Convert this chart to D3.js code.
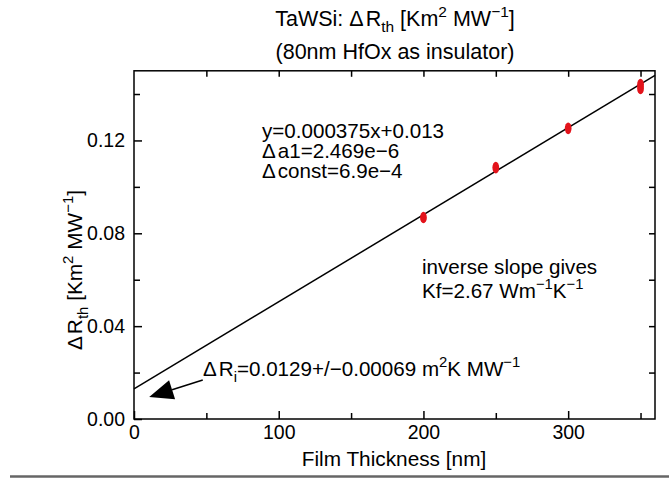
<!DOCTYPE html>
<html>
<head>
<meta charset="utf-8">
<script src="https://cdn.jsdelivr.net/npm/d3@7"></script>
<style>
  html, body { margin: 0; padding: 0; background: #fff; }
  svg { display: block; font-family: "Liberation Sans", Arial, Helvetica, sans-serif; }
</style>
</head>
<body>
<svg id="chart" width="669" height="479"></svg>
<script>
// Film thickness (nm) and measured thermal resistance change (K m^2 / MW)
const thickness = [200, 250, 300, 350, 350];
const deltaR    = [0.0868, 0.1083, 0.1252, 0.1441, 0.1424];

// Linear fit y = slope * x + intercept
const fitSlope = 0.000375;
const fitIntercept = 0.013;

const xTicks = [0, 50, 100, 150, 200, 250, 300, 350];
const xTickLabels = ["0", "", "100", "", "200", "", "300", ""];
const yTicks = [0, 0.02, 0.04, 0.06, 0.08, 0.10, 0.12, 0.14];
const yTickLabels = ["0.00", "", "0.04", "", "0.08", "", "0.12", ""];

// Arrow pointing at the intercept region (data units: [x, y])
const arrowTail = [47.5, 0.0168];
const arrowTip  = [10.5, 0.0095];

const svg = d3.select("#chart");
const FS_TICK = 19.5;   // tick labels
const FS_AX = 20.8;     // axis titles
const FS_NOTE = 20.6;   // annotations
const FS_TITLE = 21.5;  // chart title

const x = d3.scaleLinear().domain([0, 360]).range([134, 655]);
const y = d3.scaleLinear().domain([0, 0.15]).range([419, 70.8]);

// Rich text helper: handles sub/superscripts via dy shifts
function rich(sel, parts, size) {
  let shift = 0;
  parts.forEach(p => {
    const ts = sel.append("tspan").text(p.t);
    const target = p.sup ? -size * 0.42 : p.sub ? size * 0.28 : 0;
    ts.attr("dy", target - shift);
    shift = target;
    if (p.sup || p.sub) ts.attr("font-size", size * 0.72);
    if (p.dx) ts.attr("dx", p.dx);
  });
  return sel;
}

// Frame
svg.append("rect")
  .attr("x", x(0)).attr("y", y(0.15))
  .attr("width", x(360) - x(0)).attr("height", y(0) - y(0.15))
  .attr("fill", "none").attr("stroke", "#000").attr("stroke-width", 1.5);

// Axes with inward ticks
const axBottom = svg.append("g").attr("transform", `translate(0,${y(0)})`)
  .call(d3.axisBottom(x).tickValues(xTicks)
    .tickSizeInner(0).tickSizeOuter(0).tickPadding(6)
    .tickFormat((d, i) => xTickLabels[i]));
axBottom.selectAll(".tick line").attr("y2", (d, i) => xTickLabels[i] ? -8 : -6);

const axTop = svg.append("g").attr("transform", `translate(0,${y(0.15)})`)
  .call(d3.axisTop(x).tickValues(xTicks.slice(1)).tickSizeInner(0).tickSizeOuter(0).tickFormat(""));
axTop.selectAll(".tick line").attr("y2", 6);

const axLeft = svg.append("g").attr("transform", `translate(${x(0)},0)`)
  .call(d3.axisLeft(y).tickValues(yTicks)
    .tickSizeInner(0).tickSizeOuter(0).tickPadding(9)
    .tickFormat((d, i) => yTickLabels[i]));
axLeft.selectAll(".tick line").attr("x2", (d, i) => yTickLabels[i] ? 8 : 6);

const axRight = svg.append("g").attr("transform", `translate(${x(360)},0)`)
  .call(d3.axisRight(y).tickValues(yTicks.slice(1)).tickSizeInner(0).tickSizeOuter(0).tickFormat(""));
axRight.selectAll(".tick line").attr("x2", -6);

svg.selectAll(".domain").remove();
svg.selectAll(".tick line").attr("stroke", "#000").attr("stroke-width", 1.5);
svg.selectAll(".tick text").attr("font-size", FS_TICK).attr("fill", "#000")
  .attr("font-family", "Liberation Sans, Arial, sans-serif");

// Fit line
svg.append("line")
  .attr("x1", x(0)).attr("y1", y(fitIntercept))
  .attr("x2", x(360)).attr("y2", y(fitSlope * 360 + fitIntercept))
  .attr("stroke", "#000").attr("stroke-width", 1.5);

// Data points
svg.append("g").selectAll("ellipse")
  .data(thickness.map((t, i) => [t, deltaR[i]]))
  .join("ellipse")
  .attr("cx", d => x(d[0])).attr("cy", d => y(d[1]))
  .attr("rx", 3.4).attr("ry", 5.8)
  .attr("fill", "#e3131b");

// Arrow
const ax1 = x(arrowTail[0]), ay1 = y(arrowTail[1]);
const ax2 = x(arrowTip[0]),  ay2 = y(arrowTip[1]);
const ang = Math.atan2(ay2 - ay1, ax2 - ax1);
const headLen = 24, headW = 10;
const bx = ax2 - headLen * Math.cos(ang), by = ay2 - headLen * Math.sin(ang);
svg.append("line")
  .attr("x1", ax1).attr("y1", ay1).attr("x2", bx).attr("y2", by)
  .attr("stroke", "#000").attr("stroke-width", 1.5);
svg.append("path")
  .attr("d", `M${ax2},${ay2} L${bx - headW * Math.sin(ang)},${by + headW * Math.cos(ang)} L${bx + headW * Math.sin(ang)},${by - headW * Math.cos(ang)} Z`)
  .attr("fill", "#000");

// Titles
rich(svg.append("text").attr("x", 395).attr("y", 26).attr("text-anchor", "middle").attr("font-size", FS_TITLE),
  [{t: "TaWSi: Δ"}, {t: "R", dx: 2}, {t: "th", sub: true}, {t: " [Km"}, {t: "2", sup: true}, {t: " MW"}, {t: "−1", sup: true}, {t: "]"}], FS_TITLE);
svg.append("text").attr("x", 395).attr("y", 59).attr("text-anchor", "middle").attr("font-size", FS_TITLE)
  .text("(80nm HfOx as insulator)");

// Axis titles
svg.append("text").attr("x", 394).attr("y", 466).attr("text-anchor", "middle").attr("font-size", FS_AX)
  .text("Film Thickness [nm]");
rich(svg.append("text").attr("transform", "translate(82,270) rotate(-90)").attr("text-anchor", "middle").attr("font-size", FS_AX),
  [{t: "Δ"}, {t: "R", dx: 2}, {t: "th", sub: true}, {t: " [Km"}, {t: "2", sup: true}, {t: " MW"}, {t: "−1", sup: true}, {t: "]"}], FS_AX);

// Fit annotation
const fitText = svg.append("text").attr("font-size", FS_NOTE);
fitText.append("tspan").attr("x", 262).attr("y", 138).text("y=0.000375x+0.013");
fitText.append("tspan").attr("x", 262).attr("y", 158).text("Δ").append("tspan").attr("dx", 2).text("a1=2.469e−6");
fitText.append("tspan").attr("x", 262).attr("y", 178).text("Δ").append("tspan").attr("dx", 2).text("const=6.9e−4");

// Conductivity annotation
svg.append("text").attr("x", 422).attr("y", 274).attr("font-size", FS_NOTE).text("inverse slope gives");
rich(svg.append("text").attr("x", 422).attr("y", 298).attr("font-size", FS_NOTE),
  [{t: "Kf=2.67 Wm"}, {t: "−1", sup: true}, {t: "K"}, {t: "−1", sup: true}], FS_NOTE);

// Intercept annotation
rich(svg.append("text").attr("x", 203).attr("y", 376).attr("font-size", FS_NOTE),
  [{t: "Δ"}, {t: "R", dx: 2}, {t: "i", sub: true}, {t: "=0.0129+/−0.00069 m"}, {t: "2", sup: true}, {t: "K MW"}, {t: "−1", sup: true}], FS_NOTE);

// Bottom rule
svg.append("line").attr("x1", 10).attr("x2", 669).attr("y1", 476.5).attr("y2", 476.5)
  .attr("stroke", "#666").attr("stroke-width", 2.5);
</script>
</body>
</html>
